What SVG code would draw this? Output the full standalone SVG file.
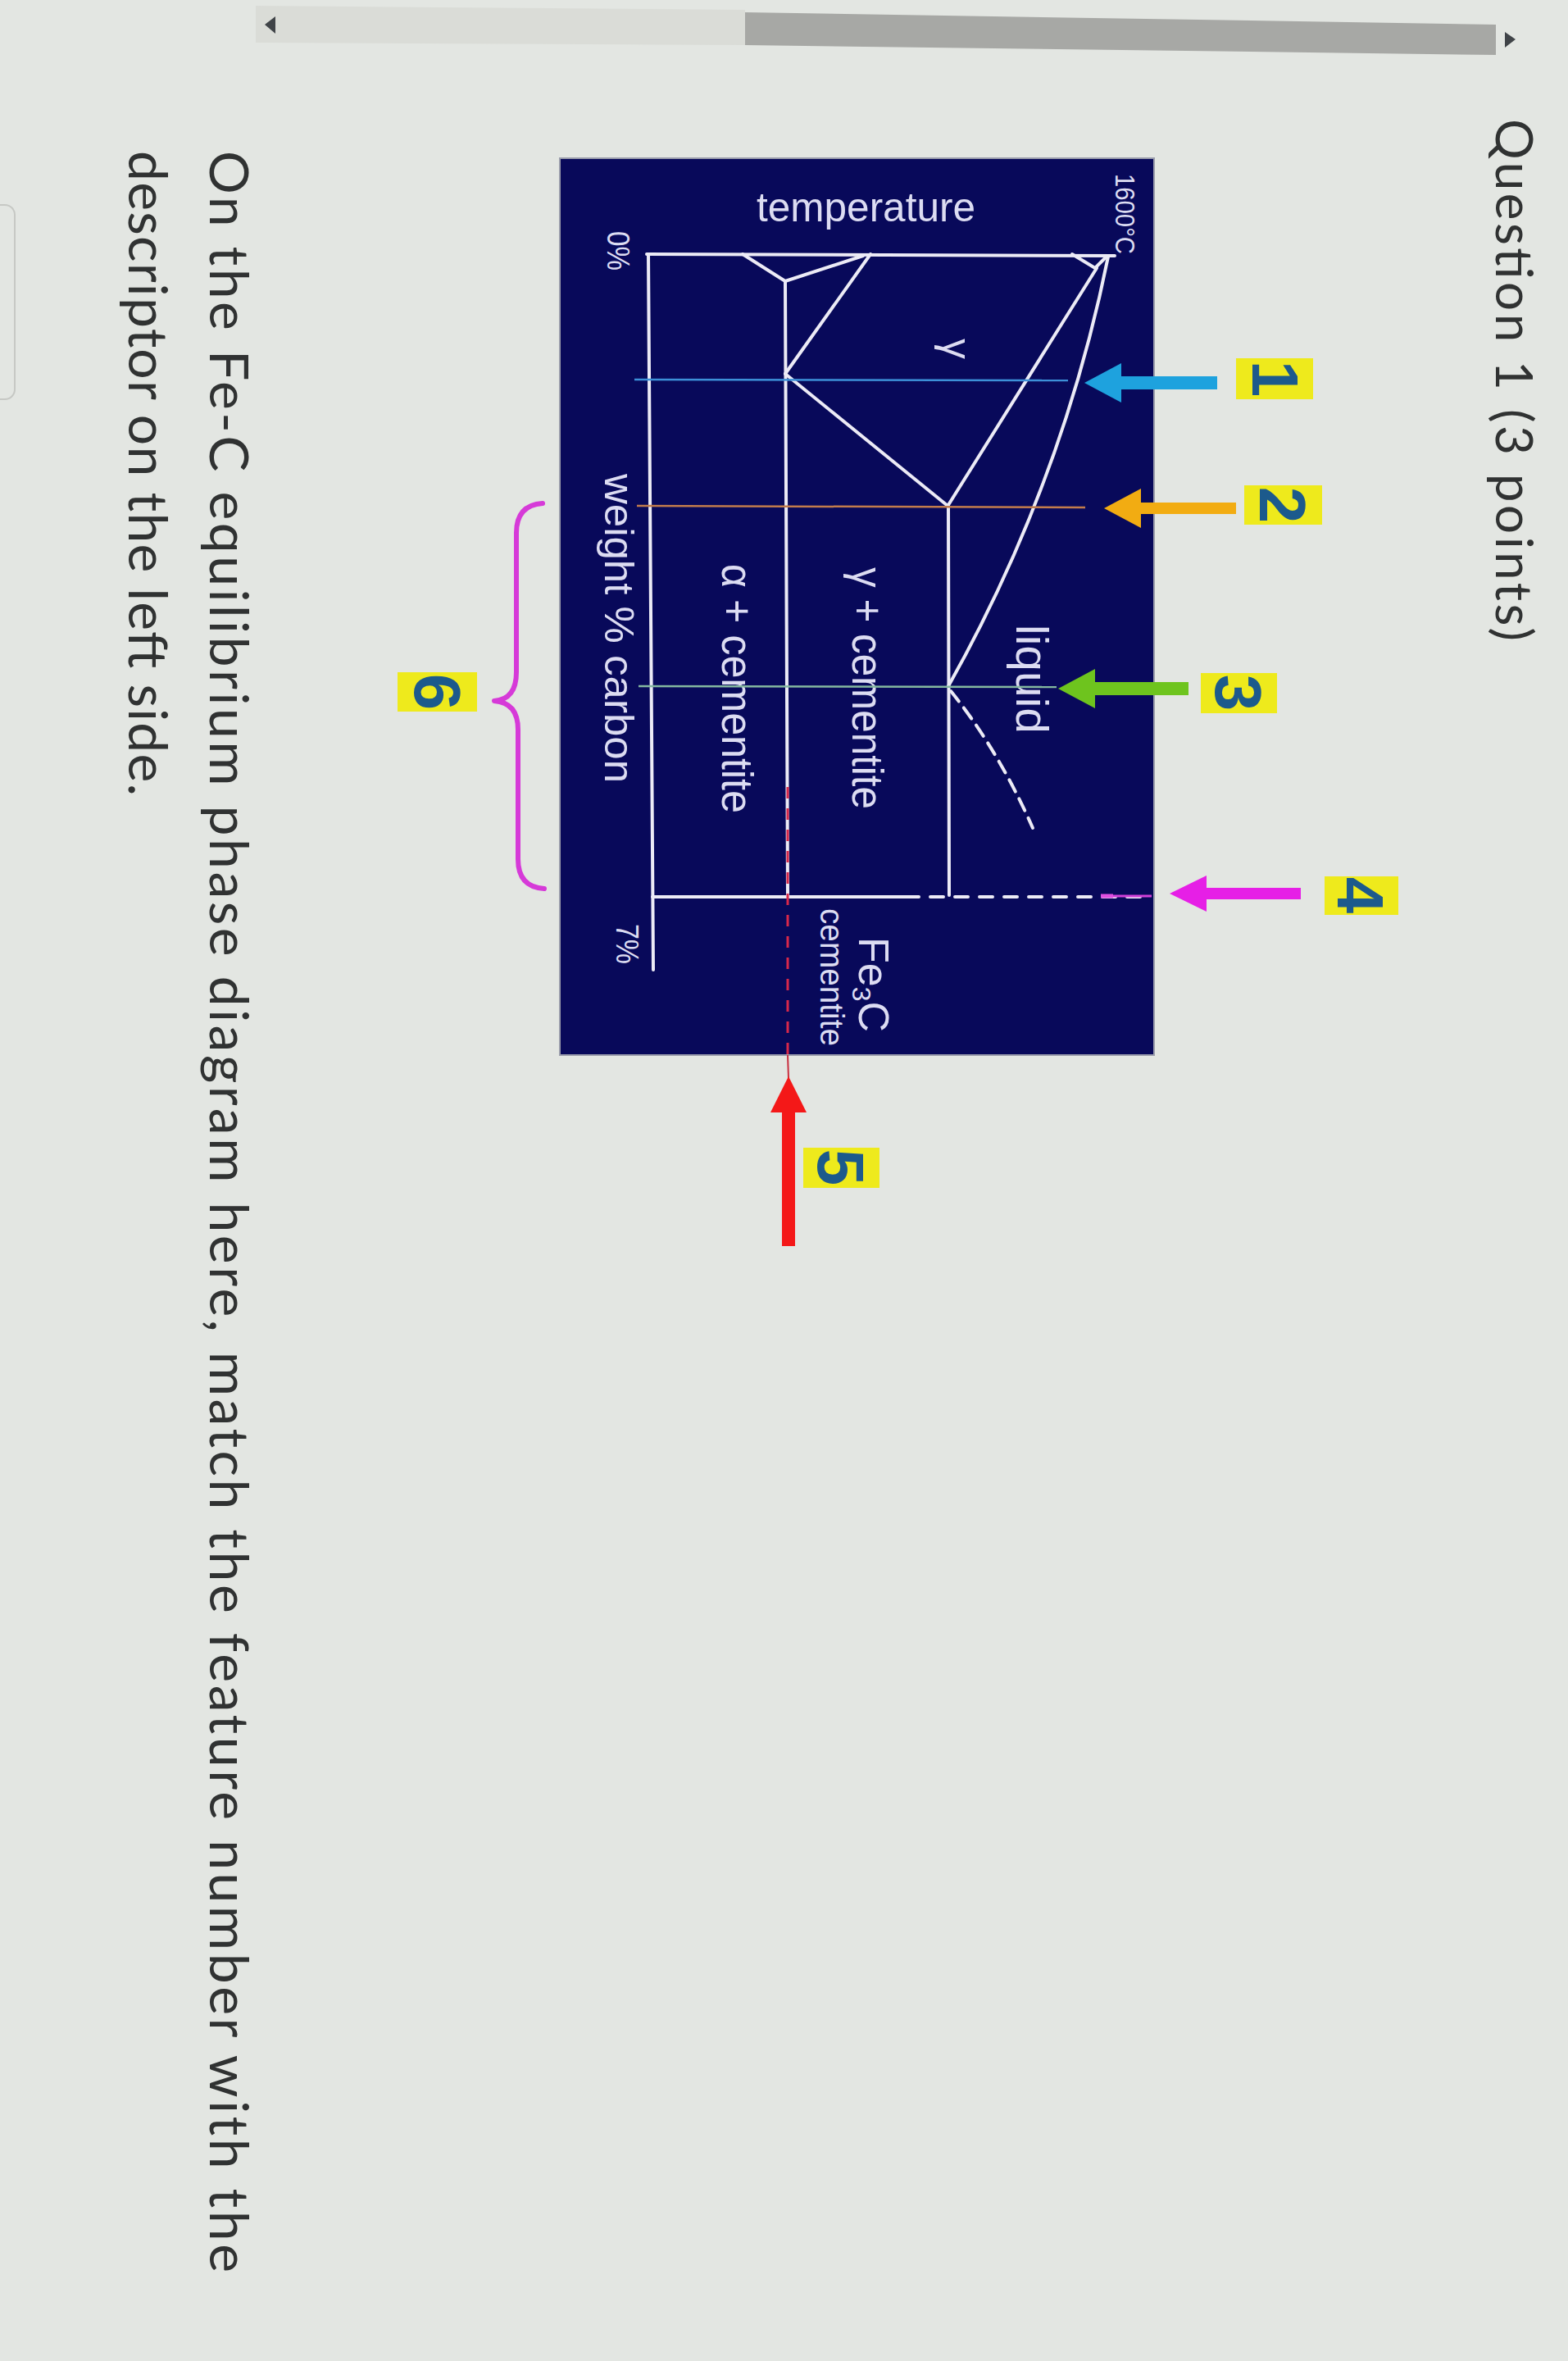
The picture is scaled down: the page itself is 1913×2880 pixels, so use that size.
<svg xmlns="http://www.w3.org/2000/svg" width="1913" height="2880" viewBox="0 0 1913 2880">
  <style>
    .page { fill: #e3e6e2; }
    .prose { font-family: Lato, "Liberation Sans", sans-serif; fill: #303232; }
    .dl { font-family: "Liberation Sans", Arial, sans-serif; fill: #dcdcf2; }
    .ax { stroke: #ecebf6; stroke-width: 4; fill: none; stroke-linecap: round; }
    .lbl rect { fill: #eeea1c; }
    .lbl text { font-family: "Liberation Sans", Arial, sans-serif; font-weight: bold; font-size: 80px; fill: #1c5a8c; text-anchor: middle; }
  </style>

  <rect class="page" x="0" y="0" width="1913" height="2880"/>

  <g id="scrollbar">
    <polygon points="312,7 909,12 909,55 312,52" fill="#dadcd7"/>
    <polygon points="909,15 1825,30 1825,67 909,55" fill="#a7a8a5"/>
    <polygon points="323,30 336,20 336,41" fill="#404448"/>
    <polygon points="1849,48 1836,39 1836,58" fill="#404448"/>
  </g>

  <rect id="side-box" x="-30" y="250" width="48" height="237" rx="12" fill="none" stroke="#c6c8c4" stroke-width="2"/>

  <g id="title">
    <text class="prose" font-size="62" transform="translate(1825,145) rotate(90)" textLength="637" lengthAdjust="spacing">Question 1 (3 points)</text>
  </g>

  <g id="prompt">
    <text class="prose" font-size="66" transform="translate(256,184) rotate(90)" textLength="2588" lengthAdjust="spacing">On the Fe-C equilibrium phase diagram here, match the feature number with the</text>
    <text class="prose" font-size="66" transform="translate(157,184) rotate(90)" textLength="787" lengthAdjust="spacing">descriptor on the left side.</text>
  </g>

  <g id="diagram">
    <rect x="683" y="193" width="725" height="1094" fill="#08095a" stroke="#9a9cab" stroke-width="2"/>
    <!-- axes -->
    <line class="ax" x1="789" y1="310" x2="1360" y2="312"/>
    <line class="ax" x1="791" y1="310" x2="797" y2="1183"/>
    <!-- cementite composition line -->
    <line class="ax" x1="796" y1="1094" x2="1121" y2="1094"/>
    <line class="ax" x1="1135" y1="1094" x2="1402" y2="1094" stroke-dasharray="16 14" stroke-linecap="butt"/>
    <!-- phase boundaries -->
    <line class="ax" x1="958" y1="343" x2="961" y2="1094"/>
    <polyline class="ax" points="906,310 958,343 1053,312"/>
    <line class="ax" x1="1062" y1="310" x2="958" y2="456"/>
    <line class="ax" x1="958" y1="456" x2="1155" y2="616"/>
    <line class="ax" x1="1157" y1="616" x2="1158" y2="1092"/>
    <line class="ax" x1="1157" y1="616" x2="1338" y2="327"/>
    <polyline class="ax" points="1308,310 1336,327 1350,313"/>
    <path class="ax" d="M 1352 313 Q 1296 590 1157 837"/>
    <path class="ax" d="M 1160 843 Q 1218 915 1260 1010" stroke-dasharray="16 10" stroke-linecap="butt"/>
    <!-- texts -->
    <text class="dl" x="923" y="270" font-size="50" textLength="267" lengthAdjust="spacingAndGlyphs">temperature</text>
    <text class="dl" font-size="38" transform="translate(741,282) rotate(90)" textLength="48" lengthAdjust="spacingAndGlyphs">0%</text>
    <text class="dl" font-size="38" transform="translate(752,1127) rotate(90)" textLength="49" lengthAdjust="spacingAndGlyphs">7%</text>
    <text class="dl" font-size="34" transform="translate(1361,212) rotate(90)" textLength="98" lengthAdjust="spacingAndGlyphs">1600°C</text>
    <text class="dl" font-size="50" transform="translate(738,578) rotate(90)" textLength="377" lengthAdjust="spacingAndGlyphs">weight % carbon</text>
    <text class="dl" font-size="50" transform="translate(1150,413) rotate(90)">γ</text>
    <text class="dl" font-size="56" transform="translate(1240,762) rotate(90)" textLength="133" lengthAdjust="spacingAndGlyphs">liquid</text>
    <text class="dl" font-size="54" transform="translate(1040,692) rotate(90)" textLength="295" lengthAdjust="spacingAndGlyphs">γ + cementite</text>
    <text class="dl" font-size="54" transform="translate(881,688) rotate(90)" textLength="304" lengthAdjust="spacingAndGlyphs">α + cementite</text>
    <text class="dl" font-size="52" transform="translate(1048,1143) rotate(90)">Fe<tspan font-size="32" dy="8">3</tspan><tspan dy="-8">C</tspan></text>
    <text class="dl" font-size="40" transform="translate(1001,1108) rotate(90)" textLength="168" lengthAdjust="spacingAndGlyphs">cementite</text>
  </g>

  <g id="connectors">
    <!-- indicator lines across the diagram -->
    <line x1="774" y1="463" x2="1303" y2="464" stroke="#3d90d8" stroke-width="2.5"/>
    <line x1="777" y1="617" x2="1324" y2="619" stroke="#c27c4c" stroke-width="2.5"/>
    <line x1="779" y1="837" x2="1289" y2="838" stroke="#84b8a0" stroke-width="2.5"/>
    <line x1="1343" y1="1093" x2="1358" y2="1093" stroke="#e050e0" stroke-width="5"/>
    <line x1="1358" y1="1093" x2="1405" y2="1093" stroke="#d040d8" stroke-width="3"/>
    <line x1="961" y1="960" x2="961" y2="1287" stroke="#d8284a" stroke-width="3" stroke-dasharray="14 12"/>
    <line x1="961" y1="1287" x2="962" y2="1315" stroke="#c83040" stroke-width="2"/>
    <!-- arrows -->
    <polygon id="arrow-1" points="1323,467 1368,443 1368,459 1485,459 1485,475 1368,475 1368,491" fill="#1ea2de"/>
    <polygon id="arrow-2" points="1347,620 1392,596 1392,613 1508,613 1508,627 1392,627 1392,644" fill="#f2ac12"/>
    <polygon id="arrow-3" points="1291,840 1336,816 1336,832 1450,832 1450,848 1336,848 1336,864" fill="#6ec41e"/>
    <polygon id="arrow-4" points="1427,1090 1472,1068 1472,1083 1587,1083 1587,1097 1472,1097 1472,1112" fill="#e61fe6"/>
    <polygon id="arrow-5" points="962,1313 984,1357 970,1357 970,1520 954,1520 954,1357 940,1357" fill="#f41818"/>
    <!-- brace for 6 -->
    <path id="brace-6" d="M 662 614 Q 630 616 630 650 L 630 820 Q 630 853 603 855 Q 632 857 632 890 L 632 1048 Q 632 1082 664 1084" fill="none" stroke="#d63ad8" stroke-width="6" stroke-linecap="round" stroke-linejoin="round"/>
  </g>

  <g id="label-1" class="lbl">
    <rect x="1508" y="437" width="94" height="50"/>
    <text transform="translate(1528,462) rotate(90)">1</text>
  </g>
  <g id="label-2" class="lbl">
    <rect x="1518" y="592" width="95" height="48"/>
    <text transform="translate(1537,616) rotate(90)">2</text>
  </g>
  <g id="label-3" class="lbl">
    <rect x="1465" y="821" width="93" height="49"/>
    <text transform="translate(1483,845) rotate(90)">3</text>
  </g>
  <g id="label-4" class="lbl">
    <rect x="1616" y="1069" width="90" height="47"/>
    <text transform="translate(1632,1092) rotate(90)">4</text>
  </g>
  <g id="label-5" class="lbl">
    <rect x="980" y="1400" width="93" height="49"/>
    <text transform="translate(998,1424) rotate(90)">5</text>
  </g>
  <g id="label-6" class="lbl">
    <rect x="485" y="820" width="97" height="48"/>
    <text transform="translate(506,844) rotate(90)">6</text>
  </g>
</svg>
